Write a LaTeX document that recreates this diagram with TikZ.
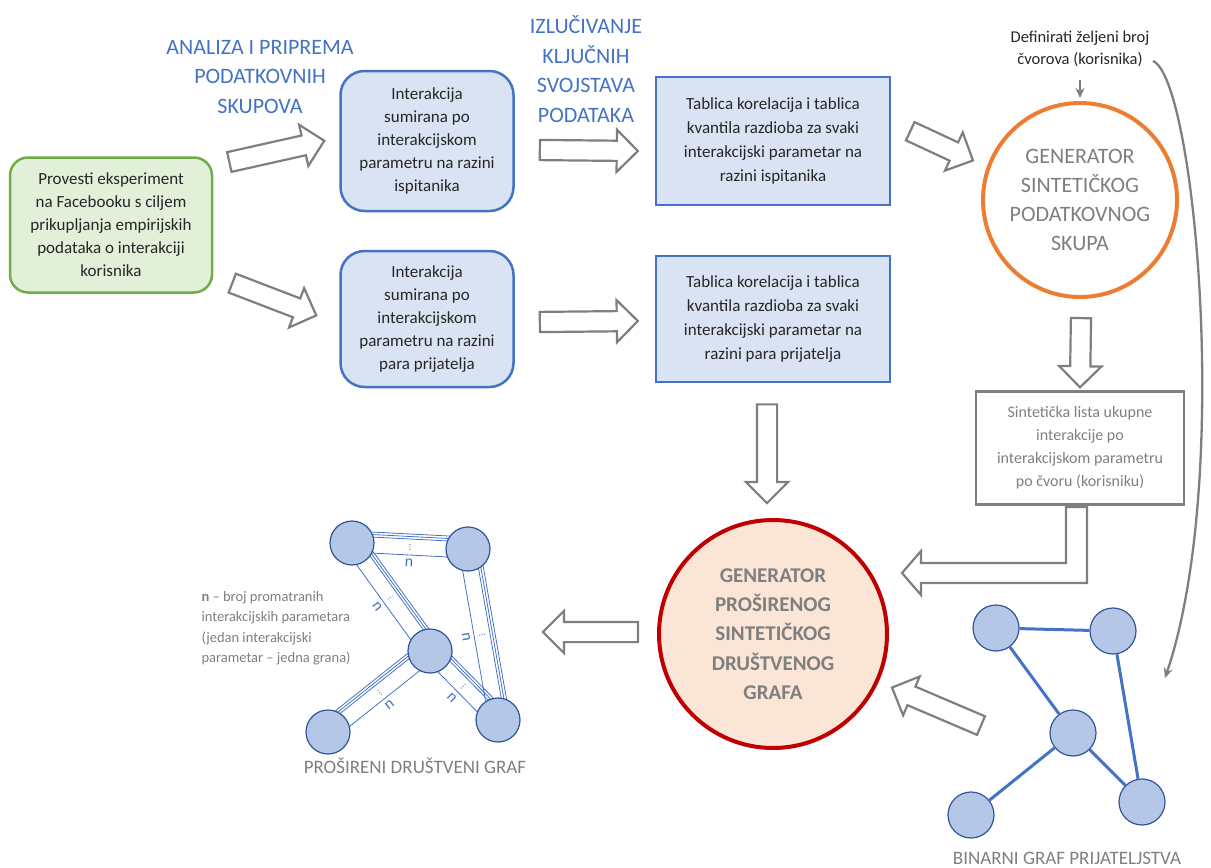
\documentclass[tikz,border=0pt]{standalone}
\usepackage{fontspec}
\setmainfont{Carlito}
\usetikzlibrary{positioning, arrows.meta, shapes.arrows, calc, backgrounds}

\definecolor{boxblue}{HTML}{DAE3F3}
\definecolor{lineblue}{HTML}{4472C4}
\definecolor{darkblue}{HTML}{2F5597}
\definecolor{nodeblue}{HTML}{B4C7E7}
\definecolor{startgreen}{HTML}{70AD47}
\definecolor{startfill}{HTML}{E2F0D9}
\definecolor{txtgray}{HTML}{7F7F7F}
\definecolor{genorange}{HTML}{ED7D31}
\definecolor{genred}{HTML}{C00000}
\definecolor{genfill}{HTML}{FBE5D6}
\definecolor{txtdark}{HTML}{262626}

\tikzset{
  base/.style={align=center, text=txtdark, font=\fontsize{17}{23}\selectfont, inner sep=0pt},
  startbox/.style={base, draw=startgreen, fill=startfill, line width=2.5pt, rounded corners=18pt, minimum width=202pt, minimum height=135pt},
  sumbox/.style={base, draw=lineblue, fill=boxblue, line width=2.5pt, rounded corners=24pt, minimum width=173pt, minimum height=140pt},
  tablebox/.style={base, draw=lineblue, fill=boxblue, line width=2.5pt, minimum width=234pt, minimum height=128pt, font=\fontsize{17}{24}\selectfont},
  listbox/.style={base, text=txtgray, font=\fontsize{16}{23}\selectfont, draw=txtgray, line width=2.5pt, minimum width=208pt, minimum height=113pt},
  heading/.style={align=center, text=lineblue, font=\fontsize{22}{29.5}\selectfont},
  gen/.style={circle, align=center, text=txtgray, line width=4pt, inner sep=0pt},
  vertex/.style={circle, draw=darkblue, fill=nodeblue, line width=1.2pt, minimum size=44pt, inner sep=0pt},
  link/.style={lineblue, line width=3pt},
  strand/.style={lineblue, line width=0.8pt},
  fat/.style={single arrow, draw=txtgray, fill=white, line width=2.2pt, inner xsep=0pt, inner ysep=9pt, single arrow head extend=11pt, single arrow tip angle=90},
  thin arrow/.style={txtgray, line width=2.3pt, -{Stealth[length=10pt, width=9pt]}},
  caption/.style={text=txtgray, font=\fontsize{19}{23}\selectfont},
}

% hollow block arrow from #1 (tail) to #2 (tip)
\newcommand{\fatarrow}[2]{%
  \path let \p1=#1, \p2=#2, \n1={atan2(\y2-\y1,\x2-\x1)}, \n2={veclen(\x2-\x1,\y2-\y1)} in
    node[fat, minimum height=\n2, rotate=\n1, anchor=tail] at (\p1) {};}

% edge made of many interaction strands
\newcommand{\bundle}[2]{%
  \foreach \d in {7,9.5,12}
    \draw[strand] ($(#1)!\d pt!90:(#2)$) -- ($(#2)!\d pt!-90:(#1)$);
  \draw[strand] ($(#1)!-9pt!90:(#2)$) -- ($(#2)!-9pt!-90:(#1)$);
  \foreach \d in {-3.5,-1,1.5}
    \fill[lineblue] ($(#1)!0.5!(#2)!\d pt!90:(#2)$) circle (0.6pt);
  \path let \p1=($(#2)-(#1)$), \n1={atan2(\y1,\x1)} in
    ($(#1)!0.5!(#2)!-17pt!90:(#2)$) node[rotate=\n1, text=lineblue, font=\fontsize{16}{16}\selectfont, inner sep=0pt] {n};}

\begin{document}
\begin{tikzpicture}[x=1pt, y=-1pt, on grid]
  \useasboundingbox (0,0) rectangle (1211,868);

  % headings
  \node[heading] (prep) at (260,77) {ANALIZA I PRIPREMA\\PODATKOVNIH\\SKUPOVA};
  \node[heading] (extract) at (586,69) {IZLUČIVANJE\\KLJUČNIH\\SVOJSTAVA\\PODATAKA};

  % data preparation
  \node[startbox] (start) at (111,225) {Provesti eksperiment\\na Facebooku s ciljem\\prikupljanja empirijskih\\podataka o interakciji\\korisnika};
  \node[sumbox] (sum1) at (427,141) {Interakcija\\sumirana po\\interakcijskom\\parametru na razini\\ispitanika};
  \node[sumbox, minimum height=136pt] (sum2) at (427,319) {Interakcija\\sumirana po\\interakcijskom\\parametru na razini\\para prijatelja};
  \node[tablebox] (tab1) [right=346pt of sum1] {Tablica korelacija i tablica\\kvantila razdioba za svaki\\interakcijski parametar na\\razini ispitanika};
  \node[tablebox, minimum height=126pt] (tab2) [right=346pt of sum2] {Tablica korelacija i tablica\\kvantila razdioba za svaki\\interakcijski parametar na\\razini para prijatelja};

  % generators
  \node[align=center, text=txtdark, font=\fontsize{16.5}{22}\selectfont] (target) at (1080,49) {Definirati željeni broj\\čvorova (korisnika)};
  \node[gen, draw=genorange, fill=white, minimum size=194pt, font=\fontsize{22}{29}\selectfont] (gen1) at (1080,200) {GENERATOR\\SINTETIČKOG\\PODATKOVNOG\\SKUPA};
  \node[listbox] (list) [below=248pt of gen1] {Sintetička lista ukupne\\interakcije po\\interakcijskom parametru\\po čvoru (korisniku)};
  \node[gen, draw=genred, fill=genfill, minimum size=228pt, font=\fontsize{21}{29.3}\selectfont\bfseries] (gen2) at (773,634) {GENERATOR\\PROŠIRENOG\\SINTETIČKOG\\DRUŠTVENOG\\GRAFA};

  % extended social graph
  \node[vertex] (a) at (352,543) {};
  \node[vertex] (b) at (468,549) {};
  \node[vertex] (c) at (430,651) {};
  \node[vertex] (d) at (328,732) {};
  \node[vertex] (e) at (498,720) {};
  \begin{scope}[on background layer]
    \bundle{a}{b}
    \bundle{a}{c}
    \bundle{d}{c}
    \bundle{c}{e}
    \bundle{b}{e}
  \end{scope}
  \node[caption] (extlabel) at (415,766) {PROŠIRENI DRUŠTVENI GRAF};
  \node[align=left, text=txtgray, font=\fontsize{14.5}{20.5}\selectfont, anchor=west] (legend) at (198,628) {\textbf{n} – broj promatranih\\interakcijskih parametara\\(jedan interakcijski\\parametar – jedna grana)};

  % binary friendship graph
  \node[vertex, minimum size=46pt] (f) at (996,628) {};
  \node[vertex, minimum size=46pt] (g) at (1113,631) {};
  \node[vertex, minimum size=46pt] (h) at (1073,733) {};
  \node[vertex, minimum size=46pt] (i) at (971,815) {};
  \node[vertex, minimum size=46pt] (j) at (1142,802) {};
  \draw[link] (f) -- (g) (f) -- (h) (g) -- (j) (h) -- (i) (h) -- (j);
  \node[caption] (binlabel) at (1067,858) {BINARNI GRAF PRIJATELJSTVA};

  % flow
  \fatarrow{($(start.north east)+(15,6)$)}{($(sum1.west)+(-16,0)$)}
  \fatarrow{($(start.south east)+(18,-11)$)}{($(sum2.west)+(-24,-4)$)}
  \fatarrow{($(sum1.east)+(24,9)$)}{($(tab1.west)+(-18,10)$)}
  \fatarrow{($(sum2.east)+(24,3)$)}{($(tab2.west)+(-18,2)$)}
  \fatarrow{($(tab1.north east)+(18,55)$)}{($(gen1.west)+(-9,-40)$)}
  \fatarrow{($(gen1.south)+(1,18)$)}{($(list.north)+(0,-4)$)}
  \fatarrow{($(tab2.south)+(-6,20)$)}{($(gen2.north)+(-6,-16)$)}
  \fatarrow{($(gen2.west)+(-18,-2)$)}{($(gen2.west)+(-113,-2)$)}
  \fatarrow{($(h)+(-91,-7)$)}{($(gen2)+(120,54)$)}
  \draw[txtgray, line width=2.2pt, fill=white] (1087,507) -- (1087,583) -- (921,583) -- (921,595) -- (902,573) -- (921,551) -- (921,563) -- (1066,563) -- (1066,507) -- cycle;

  \coordinate (curveend) at (1165,678);
  \draw[thin arrow] ($(target.south)+(0,10)$) -- ($(gen1.north)+(0,-3)$);
  \draw[thin arrow] ($(target.east)+(0,12)$) .. controls (1195,78) and (1232,480) .. (curveend);
\end{tikzpicture}
\end{document}
